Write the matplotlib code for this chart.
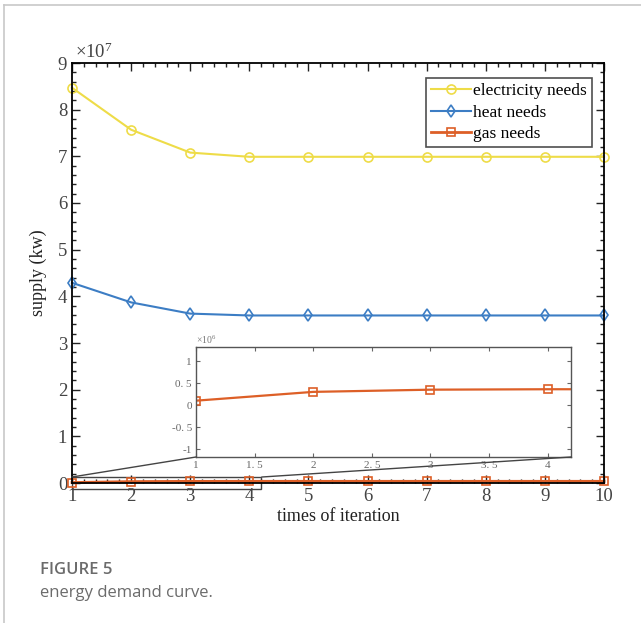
import matplotlib
matplotlib.use("Agg")
import matplotlib.pyplot as plt
from matplotlib.ticker import MultipleLocator
from matplotlib.lines import Line2D
from matplotlib.patches import Rectangle

iterations = [1, 2, 3, 4, 5, 6, 7, 8, 9, 10]
electricity = [8.47e7, 7.57e7, 7.08e7, 6.99e7, 6.99e7, 6.99e7, 6.99e7, 6.99e7, 6.99e7, 6.99e7]
heat = [4.29e7, 3.87e7, 3.63e7, 3.59e7, 3.59e7, 3.59e7, 3.59e7, 3.59e7, 3.59e7, 3.59e7]
gas = [0.10e6, 0.30e6, 0.35e6, 0.36e6, 0.36e6, 0.36e6, 0.36e6, 0.36e6, 0.36e6, 0.36e6]

inset_xticks = [1, 1.5, 2, 2.5, 3, 3.5, 4]
inset_xlabels = ["1", "1. 5", "2", "2. 5", "3", "3. 5", "4"]
inset_yticks = [-1, -0.5, 0, 0.5, 1]
inset_ylabels = ["-1", "-0. 5", "0", "0. 5", "1"]

c_el = "#EEDC48"
c_heat = "#3C7DC4"
c_gas = "#DD5F27"

serif = ["Liberation Serif", "DejaVu Serif"]
plt.rcParams["font.family"] = serif
plt.rcParams["mathtext.fontset"] = "custom"
plt.rcParams["mathtext.rm"] = "Liberation Serif"
plt.rcParams["mathtext.it"] = "Liberation Serif:italic"

fig = plt.figure(figsize=(6.41, 6.23), dpi=100)

# outer frame lines (page border)
fig.add_artist(Line2D([4/641, 4/641], [0, 1 - 5/623], color="#c8c8c8", lw=1.2, transform=fig.transFigure))
fig.add_artist(Line2D([4/641, 1], [1 - 5/623, 1 - 5/623], color="#c8c8c8", lw=1.2, transform=fig.transFigure))

ax = fig.add_axes([72/641, 1 - 483/623, 532/641, 420/623])
ax.plot(iterations, electricity, color=c_el, lw=1.5, marker="o", ms=6.5, mfc="none", mew=1.2,
        label="electricity needs", clip_on=False)
ax.plot(iterations, heat, color=c_heat, lw=1.5, marker="d", ms=6.5, mfc="none", mew=1.2,
        label="heat needs", clip_on=False)
ax.plot(iterations, gas, color=c_gas, lw=2, marker="s", ms=6, mfc="none", mew=1.2,
        label="gas needs", clip_on=False)
ax.set_xlim(1, 10)
ax.set_ylim(0, 9e7)
ax.set_yticks(range(0, 10 * 10**7, 10**7))
ax.set_yticklabels([str(i) for i in range(10)])
ax.yaxis.set_minor_locator(MultipleLocator(0.2e7))
ax.xaxis.set_major_locator(MultipleLocator(1))
ax.xaxis.set_minor_locator(MultipleLocator(0.2))
ax.tick_params(which="both", direction="in", top=True, right=True, labelsize=13.5, colors="#222222", width=1.0)
ax.tick_params(which="major", length=6)
ax.tick_params(which="minor", length=3)
for lbl in ax.get_xticklabels() + ax.get_yticklabels():
    lbl.set_color("#444444")
for s in ax.spines.values():
    s.set_linewidth(1.3)
ax.set_xlabel("times of iteration", fontsize=13, color="#222222", labelpad=2)
ax.set_ylabel("supply (kw)", fontsize=13, color="#222222", labelpad=8)
ax.text(0.005, 1.003, r"$\mathrm{\times10^{7}}$", transform=ax.transAxes, fontsize=13.5, color="#444444",
        ha="left", va="bottom")
leg = ax.legend(loc="upper right", fontsize=12.5, frameon=True, fancybox=False, edgecolor="#222222",
                borderpad=0.3, labelspacing=0.3, handlelength=2.3, handletextpad=0.1,
                bbox_to_anchor=(0.993, 0.985))
leg.get_frame().set_linewidth(1.2)

# zoom rectangle on main axes
ax.add_patch(Rectangle((1, -1.2e6), 3.2, 2.5e6, fill=False, edgecolor="#444444", lw=1.0, clip_on=False, zorder=1))

# inset axes
ins = fig.add_axes([196/641, 1 - 457/623, 375/641, 110/623])
ins.plot(iterations[:5], [v / 1e6 for v in gas[:5]], color=c_gas, lw=1.6)
ins.plot(iterations[:4], [v / 1e6 for v in gas[:4]], color=c_gas, lw=0, marker="s", ms=6, mfc="none", mew=1.2)
ins.set_xlim(1, 4.2)
ins.set_ylim(-1.18, 1.32)
ins.set_xticks(inset_xticks)
ins.set_xticklabels(inset_xlabels)
ins.set_yticks(inset_yticks)
ins.set_yticklabels(inset_ylabels)
ins.tick_params(direction="in", top=True, right=True, labelsize=8, colors="#666666", length=3, pad=3)
for s in ins.spines.values():
    s.set_color("#555555")
    s.set_linewidth(1.0)
ins.text(0.0, 1.01, r"$\mathrm{\times10^{6}}$", transform=ins.transAxes, fontsize=7, color="#777777",
         ha="left", va="bottom")

# connecting lines from zoom box to inset
fig.add_artist(Line2D([72/641, 196/641], [1 - 477/623, 1 - 457/623], color="#444444", lw=1.0, transform=fig.transFigure))
fig.add_artist(Line2D([262/641, 571/641], [1 - 477/623, 1 - 457/623], color="#444444", lw=1.0, transform=fig.transFigure))

# caption
cap = ["Open Sans", "DejaVu Sans"]
fig.text(40/641, 1 - 570/623, "FIGURE 5", fontsize=12, fontweight="semibold", color="#6b6b6b", family=cap, va="center")
fig.text(40/641, 1 - 593/623, "energy demand curve.", fontsize=12, color="#6b6b6b", family=cap, va="center")

fig.savefig("out.png", dpi=100)
